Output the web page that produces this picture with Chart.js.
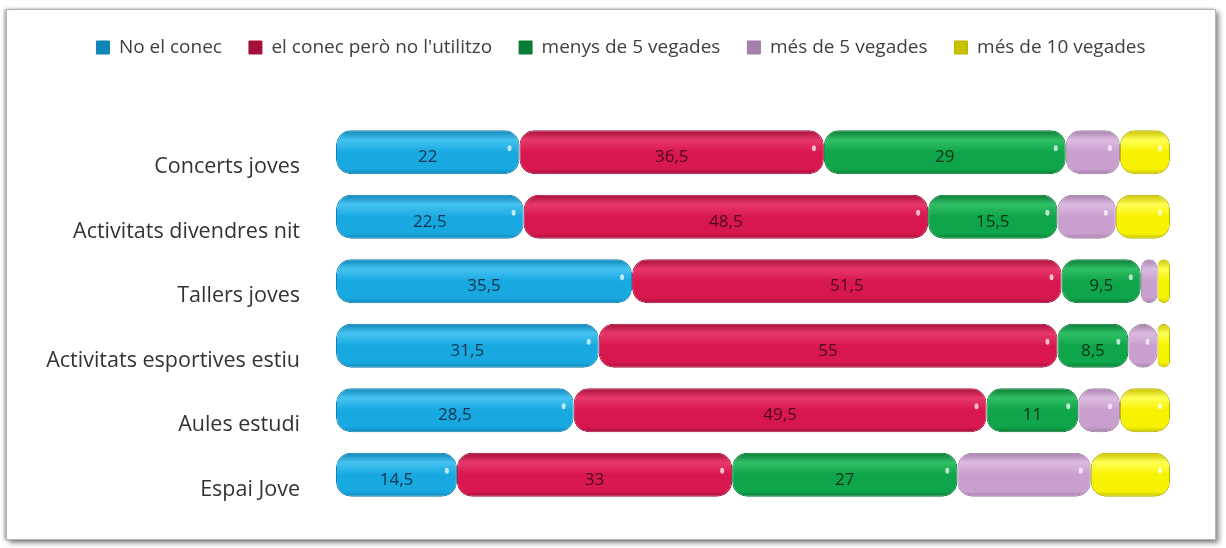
<!DOCTYPE html>
<html lang="ca">
<head>
    <meta charset="UTF-8">
    <title>Ús dels serveis joves</title>
    <script src="https://cdn.jsdelivr.net/npm/chart.js"></script>
    <style>
        body {
            margin: 0;
            background: #fff;
            font-family: "Open Sans", sans-serif;
        }
        .frame {
            position: absolute;
            left: 6px;
            top: 9px;
            width: 1208px;
            height: 529px;
            border: 1px solid #b5b5b5;
            background: #fff;
            box-shadow: -2px 0 3px rgba(0, 0, 0, 0.3), 3px 3px 5px rgba(0, 0, 0, 0.45);
        }
        .chart-box {
            position: absolute;
            left: 0;
            top: 0;
            width: 1226px;
            height: 548px;
        }
    </style>
</head>
<body>
    <div class="frame"></div>
    <div class="chart-box">
        <canvas id="usChart"></canvas>
    </div>
<script>
    // categories (top to bottom)
    const categories = ["Concerts joves", "Activitats divendres nit", "Tallers joves",
        "Activitats esportives estiu", "Aules estudi", "Espai Jove"];

    // series values
    const noElConec = [22, 22.5, 35.5, 31.5, 28.5, 14.5];
    const elConecNoUtilitzo = [36.5, 48.5, 51.5, 55, 49.5, 33];
    const menysDe5 = [29, 15.5, 9.5, 8.5, 11, 27];
    const mesDe5 = [6.5, 7, 2, 3.5, 5, 16];
    const mesDe10 = [6, 6.5, 1.5, 1.5, 6, 9.5];

    const seriesNames = ["No el conec", "el conec però no l'utilitzo", "menys de 5 vegades",
        "més de 5 vegades", "més de 10 vegades"];

    const BAR_FRACTION = 0.68;

    // vertical gradient so each segment looks like a cylinder
    function cylinder(base, dark, light) {
        return function(ctx) {
            const chart = ctx.chart;
            const area = chart.chartArea;
            if (!area || ctx.type !== 'data') return base;
            const y = chart.scales.y.getPixelForValue(ctx.dataIndex);
            const half = (area.bottom - area.top) / categories.length * BAR_FRACTION / 2;
            const g = chart.ctx.createLinearGradient(0, y - half, 0, y + half);
            g.addColorStop(0, dark);
            g.addColorStop(0.22, light);
            g.addColorStop(0.5, base);
            g.addColorStop(0.88, base);
            g.addColorStop(1, dark);
            return g;
        };
    }

    const fmt = v => String(v).replace('.', ',');

    // value labels on the first three series + small shine on each segment
    const barDecor = {
        id: 'barDecor',
        afterDatasetsDraw(chart) {
            const ctx = chart.ctx;
            ctx.save();
            chart.data.datasets.forEach((ds, di) => {
                const meta = chart.getDatasetMeta(di);
                meta.data.forEach((bar, i) => {
                    const w = Math.abs(bar.x - bar.base);
                    if (w > 22) {
                        ctx.fillStyle = 'rgba(255,255,255,0.7)';
                        ctx.beginPath();
                        ctx.ellipse(bar.x - 10, bar.y - 4, 2, 3, 0, 0, Math.PI * 2);
                        ctx.fill();
                    }
                    if (ds.labelColor) {
                        ctx.fillStyle = ds.labelColor;
                        ctx.font = '17px "Open Sans", sans-serif';
                        ctx.textAlign = 'center';
                        ctx.textBaseline = 'middle';
                        ctx.fillText(fmt(ds.data[i]), (bar.x + bar.base) / 2, bar.y + 5);
                    }
                });
            });
            ctx.restore();
        }
    };

    // extra room under the legend, and nudge it a bit to the right
    const legendSpacer = {
        id: 'legendSpacer',
        beforeInit(chart) {
            const fit = chart.legend.fit;
            chart.legend.fit = function() {
                fit.bind(chart.legend)();
                this.height += 53;
            };
        },
        afterLayout(chart) {
            chart.legend.left += 15;
            chart.legend.right += 15;
        }
    };

    const common = {
        borderWidth: 1,
        borderRadius: { topLeft: 15, topRight: 15, bottomLeft: 15, bottomRight: 15 },
        borderSkipped: false,
        barPercentage: BAR_FRACTION,
        categoryPercentage: 1
    };

    new Chart(document.getElementById('usChart'), {
        type: 'bar',
        data: {
            labels: categories,
            datasets: [
                Object.assign({
                    label: seriesNames[0], data: noElConec,
                    backgroundColor: cylinder('#19a9e1', '#0f86b8', '#45c3f2'),
                    borderColor: '#1280ad', labelColor: '#0d3550'
                }, common),
                Object.assign({
                    label: seriesNames[1], data: elConecNoUtilitzo,
                    backgroundColor: cylinder('#d8174f', '#a50f3b', '#e8386a'),
                    borderColor: '#a6123d', labelColor: '#4d0a1f'
                }, common),
                Object.assign({
                    label: seriesNames[2], data: menysDe5,
                    backgroundColor: cylinder('#0fa54a', '#0a7c36', '#30bf66'),
                    borderColor: '#0b7d37', labelColor: '#0b3318'
                }, common),
                Object.assign({
                    label: seriesNames[3], data: mesDe5,
                    backgroundColor: cylinder('#c99fcd', '#a57fab', '#dcbbe0'),
                    borderColor: '#9f7fa4'
                }, common),
                Object.assign({
                    label: seriesNames[4], data: mesDe10,
                    backgroundColor: cylinder('#f7f200', '#c8c200', '#ffff55'),
                    borderColor: '#b8b300'
                }, common)
            ]
        },
        options: {
            indexAxis: 'y',
            responsive: true,
            maintainAspectRatio: false,
            animation: false,
            layout: { padding: { top: 11, right: 56, bottom: 41, left: 42 } },
            plugins: {
                legend: {
                    position: 'top',
                    labels: {
                        boxWidth: 13,
                        boxHeight: 13,
                        padding: 27,
                        color: '#404040',
                        font: { family: '"Open Sans", sans-serif', size: 19 }
                    }
                },
                tooltip: { enabled: false }
            },
            scales: {
                x: {
                    stacked: true,
                    min: 0,
                    max: 100,
                    display: false
                },
                y: {
                    stacked: true,
                    grid: { display: false, drawTicks: false },
                    border: { display: false },
                    afterFit(scale) {
                        scale.width = 294;
                        scale.paddingTop = 0;
                        scale.paddingBottom = 0;
                    },
                    ticks: {
                        padding: 36,
                        labelOffset: 15,
                        color: '#333',
                        font: { family: '"Open Sans", sans-serif', size: 21.5 }
                    }
                }
            }
        },
        plugins: [barDecor, legendSpacer]
    });
</script>
</body>
</html>
